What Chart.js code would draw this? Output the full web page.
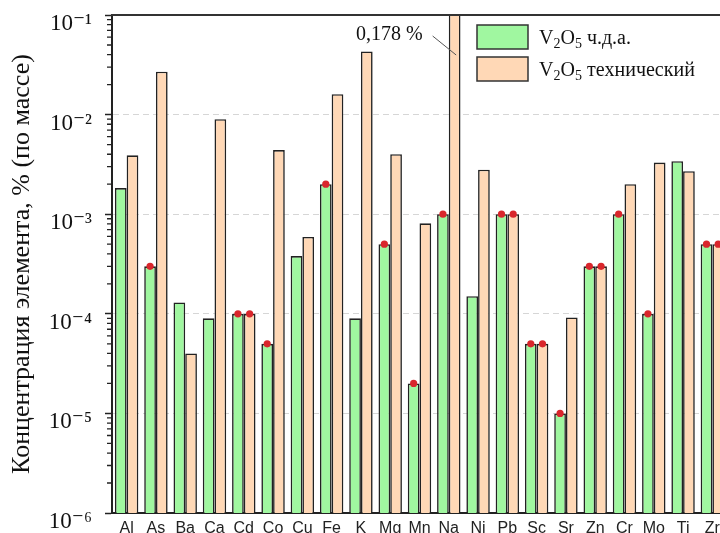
<!DOCTYPE html>
<html>
<head>
<meta charset="utf-8">
<script src="https://cdn.jsdelivr.net/npm/chart.js@4"></script>
<style>
  html, body { margin: 0; padding: 0; background: #fff; overflow: hidden; }
  #wrap { width: 740px; height: 533px; }
</style>
</head>
<body>
<div id="wrap"><canvas id="chart" width="740" height="533"></canvas></div>
<script>
// ==================== DATA ====================
const elements = ['Al', 'As', 'Ba', 'Ca', 'Cd', 'Co', 'Cu', 'Fe', 'K', 'Mg', 'Mn',
                  'Na', 'Ni', 'Pb', 'Sc', 'Sr', 'Zn', 'Cr', 'Mo', 'Ti', 'Zr'];

// V2O5 ч.д.а. (green)
const pureValues = [1.83e-3, 3e-4, 1.3e-4, 9e-5, 1e-4, 5e-5, 3.8e-4, 2e-3, 9e-5, 5e-4, 2e-5,
                    1e-3, 1.5e-4, 1e-3, 5e-5, 1e-5, 3e-4, 1e-3, 1e-4, 3.4e-3, 5e-4];
// V2O5 технический (peach)
const techValues = [3.9e-3, 2.7e-2, 4e-5, 9e-3, 1e-4, 4.4e-3, 5.9e-4, 1.6e-2, 4.3e-2, 4e-3, 8.1e-4,
                    0.178, 2.8e-3, 1e-3, 5e-5, 9.2e-5, 3e-4, 2e-3, 3.3e-3, 2.7e-3, 5e-4];

// bars marked with a red dot (value at detection limit)
const pureAtLimit = ['As', 'Cd', 'Co', 'Fe', 'Mg', 'Mn', 'Na', 'Pb', 'Sc', 'Sr', 'Zn', 'Cr', 'Mo', 'Zr'];
const techAtLimit = ['Cd', 'Pb', 'Sc', 'Zn', 'Zr'];

const yTicks = [1e-6, 1e-5, 1e-4, 1e-3, 1e-2, 1e-1];
const yTickLabels = ['10⁻⁶', '10⁻⁵', '10⁻⁴', '10⁻³', '10⁻²', '10⁻¹'];
const yTitle = 'Концентрация элемента, % (по массе)';
const seriesLabels = ['V₂O₅ ч.д.а.', 'V₂O₅ технический'];
const naNote = '0,178 %';

const GREEN = '#a0f7a0';
const PEACH = '#ffd8b6';
const EDGE = '#222';
const SERIF = '"Liberation Serif", "DejaVu Serif", serif';

// ==================== HELPERS ====================
const SUBS = '₀₁₂₃₄₅₆₇₈₉';

// draws text where ₀..₉ are rendered as smaller lowered digits
function drawRich(ctx, text, x, y, size) {
    let cx = x;
    for (const ch of text) {
        const k = SUBS.indexOf(ch);
        if (k >= 0) {
            ctx.font = Math.round(size * 0.68) + 'px ' + SERIF;
            ctx.fillText(String(k), cx, y + size * 0.22);
            cx += ctx.measureText(String(k)).width;
        } else {
            ctx.font = size + 'px ' + SERIF;
            ctx.fillText(ch, cx, y);
            cx += ctx.measureText(ch).width;
        }
    }
}

// ==================== PLUGINS ====================
const limitDots = {
    id: 'limitDots',
    afterDatasetsDraw(chart) {
        const ctx = chart.ctx;
        const lists = [pureAtLimit, techAtLimit];
        ctx.save();
        ctx.fillStyle = '#d9262c';
        lists.forEach((list, di) => {
            const meta = chart.getDatasetMeta(di);
            list.forEach(name => {
                const bar = meta.data[elements.indexOf(name)];
                if (!bar) return;
                ctx.beginPath();
                ctx.arc(bar.x, bar.y, 3.6, 0, Math.PI * 2);
                ctx.fill();
            });
        });
        ctx.restore();
    }
};

const frameAndNotes = {
    id: 'frameAndNotes',
    afterDraw(chart) {
        const ctx = chart.ctx;
        const area = chart.chartArea;
        const y = chart.scales.y;

        ctx.save();
        // minor ticks of the log axis
        ctx.strokeStyle = EDGE;
        ctx.lineWidth = 1.3;
        ctx.beginPath();
        for (let e = -6; e < -1; e++) {
            for (let m = 2; m <= 9; m++) {
                const py = y.getPixelForValue(m * Math.pow(10, e));
                ctx.moveTo(area.left - 5, py);
                ctx.lineTo(area.left, py);
            }
        }
        ctx.stroke();

        // top spine
        ctx.strokeStyle = '#333';
        ctx.lineWidth = 2;
        ctx.beginPath();
        ctx.moveTo(area.left - 1, area.top);
        ctx.lineTo(chart.width, area.top);
        ctx.stroke();

        // note for the Na bar that leaves the axis
        const naBar = chart.getDatasetMeta(1).data[elements.indexOf('Na')];
        ctx.fillStyle = '#111';
        ctx.font = '20px ' + SERIF;
        ctx.textAlign = 'right';
        ctx.textBaseline = 'alphabetic';
        ctx.fillText(naNote, naBar.x - 32, area.top + 25);
        ctx.strokeStyle = '#555';
        ctx.lineWidth = 1;
        ctx.beginPath();
        ctx.moveTo(naBar.x - 22, area.top + 21);
        ctx.lineTo(naBar.x + 1.5, area.top + 40);
        ctx.stroke();

        // legend
        const lx = area.left + 365;
        const colors = [GREEN, PEACH];
        ctx.textAlign = 'left';
        seriesLabels.forEach((label, i) => {
            const by = area.top + 10 + i * 32;
            ctx.fillStyle = colors[i];
            ctx.fillRect(lx, by, 51, 24);
            ctx.strokeStyle = '#333';
            ctx.lineWidth = 1.5;
            ctx.strokeRect(lx, by, 51, 24);
            ctx.fillStyle = '#111';
            drawRich(ctx, label, lx + 62, by + 19, 20);
        });
        ctx.restore();
    }
};

// ==================== CHART ====================
const ctx = document.getElementById('chart');
const chart = new Chart(ctx, {
    type: 'bar',
    data: {
        labels: elements,
        datasets: [
            {
                label: seriesLabels[0],
                data: pureValues,
                backgroundColor: GREEN,
                borderColor: EDGE,
                borderWidth: 1.6,
                categoryPercentage: 0.8,
                barPercentage: 1.0
            },
            {
                label: seriesLabels[1],
                data: techValues,
                backgroundColor: PEACH,
                borderColor: EDGE,
                borderWidth: 1.6,
                categoryPercentage: 0.8,
                barPercentage: 1.0
            }
        ]
    },
    options: {
        responsive: false,
        animation: false,
        layout: { padding: { top: 15, right: 13, left: 0, bottom: 0 } },
        plugins: {
            legend: { display: false },
            tooltip: { enabled: false }
        },
        scales: {
            x: {
                offset: true,
                grid: { display: false },
                border: { color: EDGE, width: 2 },
                ticks: {
                    color: '#222',
                    padding: 0,
                    autoSkip: false,
                    maxRotation: 0,
                    font: { family: '"Liberation Sans", Arial, sans-serif', size: 16, lineHeight: 1.0 }
                },
                afterFit: s => {
                    s.height = 20;
                    s.paddingLeft = 0;
                    s.paddingRight = 0;
                }
            },
            y: {
                type: 'logarithmic',
                min: 1e-6,
                max: 1e-1,
                afterBuildTicks: s => { s.ticks = yTicks.map(v => ({ value: v })); },
                ticks: {
                    callback: (v, i) => yTickLabels[i],
                    color: '#111',
                    padding: 13,
                    labelOffset: 9,
                    font: { family: SERIF, size: 23 }
                },
                grid: {
                    color: 'rgba(0,0,0,0.16)',
                    lineWidth: 1,
                    tickColor: EDGE,
                    tickLength: 7,
                    tickWidth: 1.5
                },
                border: { color: EDGE, width: 2, dash: [6, 4] },
                title: {
                    display: true,
                    text: yTitle,
                    color: '#111',
                    font: { family: SERIF, size: 26 },
                    padding: { top: 7, bottom: 0 }
                },
                afterFit: s => {
                    s.width = 112;
                    s.paddingTop = 0;
                    s.paddingBottom = 0;
                }
            }
        }
    },
    plugins: [limitDots, frameAndNotes]
});
</script>
</body>
</html>
